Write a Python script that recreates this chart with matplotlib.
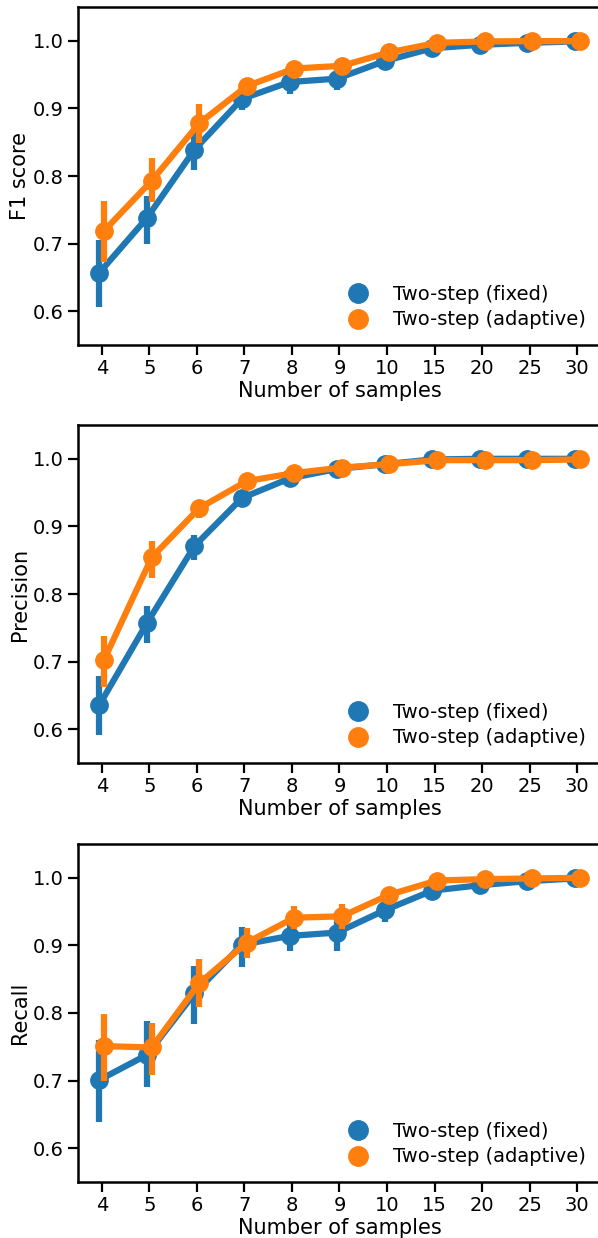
import matplotlib
matplotlib.use("Agg")
import matplotlib.pyplot as plt
from matplotlib.lines import Line2D
import numpy as np

samples = ["4", "5", "6", "7", "8", "9", "10", "15", "20", "25", "30"]
series_names = ["Two-step (fixed)", "Two-step (adaptive)"]
colors = ["#1f77b4", "#ff7f0e"]
metric_labels = ["F1 score", "Precision", "Recall"]

f1_fixed = [0.657, 0.738, 0.839, 0.914, 0.939, 0.944, 0.970, 0.989, 0.994, 0.997, 0.999]
f1_fixed_lo = [0.606, 0.700, 0.809, 0.897, 0.921, 0.927, 0.962, 0.984, 0.990, 0.995, 0.998]
f1_fixed_hi = [0.706, 0.771, 0.868, 0.930, 0.955, 0.958, 0.978, 0.993, 0.997, 0.999, 1.000]
f1_adapt = [0.719, 0.793, 0.878, 0.933, 0.959, 0.963, 0.983, 0.997, 0.999, 0.9995, 0.9995]
f1_adapt_lo = [0.673, 0.761, 0.849, 0.921, 0.950, 0.953, 0.977, 0.993, 0.997, 0.998, 0.998]
f1_adapt_hi = [0.763, 0.827, 0.906, 0.944, 0.967, 0.972, 0.989, 1.000, 1.000, 1.000, 1.000]

prec_fixed = [0.636, 0.757, 0.871, 0.942, 0.971, 0.985, 0.992, 0.999, 1.000, 1.000, 1.000]
prec_fixed_lo = [0.591, 0.727, 0.851, 0.932, 0.963, 0.979, 0.988, 0.997, 0.999, 0.999, 0.999]
prec_fixed_hi = [0.678, 0.782, 0.888, 0.952, 0.979, 0.991, 0.996, 1.000, 1.000, 1.000, 1.000]
prec_adapt = [0.703, 0.854, 0.927, 0.967, 0.979, 0.987, 0.992, 0.998, 0.998, 0.998, 0.999]
prec_adapt_lo = [0.663, 0.824, 0.913, 0.958, 0.972, 0.981, 0.988, 0.995, 0.996, 0.996, 0.997]
prec_adapt_hi = [0.738, 0.878, 0.938, 0.975, 0.985, 0.992, 0.996, 1.000, 1.000, 1.000, 1.000]

rec_fixed = [0.701, 0.738, 0.829, 0.901, 0.914, 0.919, 0.952, 0.981, 0.989, 0.995, 0.999]
rec_fixed_lo = [0.639, 0.691, 0.783, 0.868, 0.892, 0.892, 0.934, 0.972, 0.983, 0.991, 0.997]
rec_fixed_hi = [0.760, 0.788, 0.870, 0.927, 0.935, 0.942, 0.968, 0.989, 0.995, 0.999, 1.000]
rec_adapt = [0.751, 0.749, 0.844, 0.904, 0.941, 0.943, 0.975, 0.996, 0.998, 0.999, 1.000]
rec_adapt_lo = [0.699, 0.709, 0.809, 0.882, 0.925, 0.924, 0.965, 0.991, 0.995, 0.997, 0.999]
rec_adapt_hi = [0.798, 0.785, 0.880, 0.926, 0.959, 0.961, 0.985, 1.000, 1.000, 1.000, 1.000]

panels = [
    [(f1_fixed, f1_fixed_lo, f1_fixed_hi), (f1_adapt, f1_adapt_lo, f1_adapt_hi)],
    [(prec_fixed, prec_fixed_lo, prec_fixed_hi), (prec_adapt, prec_adapt_lo, prec_adapt_hi)],
    [(rec_fixed, rec_fixed_lo, rec_fixed_hi), (rec_adapt, rec_adapt_lo, rec_adapt_hi)],
]

W, H = 598, 1238
DPI = 100
fig = plt.figure(figsize=(W / DPI, H / DPI), dpi=DPI)

tops_px = [7, 425, 844]
height_px = 338
left_px = 78
right_px = 601

lw = 4.5
ms = 12.5
offsets = [-0.05, 0.05]
xpos = np.arange(len(samples))

for i, (label, series) in enumerate(zip(metric_labels, panels)):
    top = tops_px[i]
    ax = fig.add_axes([left_px / W, 1 - (top + height_px) / H,
                       (right_px - left_px) / W, height_px / H])
    for j, (mean, lo, hi) in enumerate(series):
        mean = np.array(mean); lo = np.array(lo); hi = np.array(hi)
        x = xpos + offsets[j]
        ax.vlines(x, lo, hi, color=colors[j], lw=lw, zorder=2 + j * 2)
        ax.plot(x, mean, color=colors[j], lw=lw, marker="o", ms=ms,
                zorder=3 + j * 2, solid_capstyle="butt")
    ax.set_xlim(-0.5, len(samples) - 0.5)
    ax.set_ylim(0.55, 1.05)
    ax.set_yticks([0.6, 0.7, 0.8, 0.9, 1.0])
    ax.set_xticks(xpos)
    ax.set_xticklabels(samples)
    ax.tick_params(axis="both", labelsize=14, width=1.6, length=7, pad=3)
    for s in ax.spines.values():
        s.set_linewidth(1.8)
    ax.spines["right"].set_visible(False)
    ax.set_ylabel(label, fontsize=15, labelpad=2)
    ax.set_xlabel("Number of samples", fontsize=15, labelpad=2)
    handles = [Line2D([], [], ls="none", marker="o", ms=14, color=c) for c in colors]
    ax.legend(handles, series_names, loc="lower right", frameon=False,
              fontsize=14, handletextpad=0.8, labelspacing=0.35,
              borderaxespad=0.4)

fig.savefig("out.png", dpi=DPI)
